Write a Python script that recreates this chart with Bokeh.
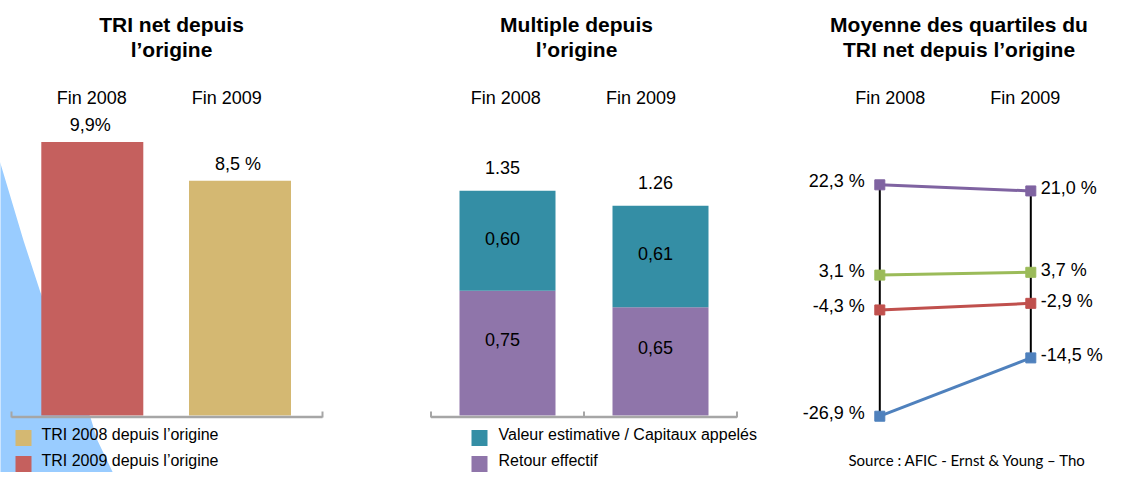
from bokeh.plotting import figure
from bokeh.layouts import row
from bokeh.models import Range1d
from bokeh.core.properties import value
from bokeh.embed import file_html
from bokeh.resources import INLINE

# ---------------- data ----------------
periods = ["Fin 2008", "Fin 2009"]

# Panel 1 : TRI net depuis l'origine
tri_net = [9.9, 8.5]
tri_labels = ["9,9%", "8,5 %"]
tri_colors = ["#C5605E", "#D4B872"]
tri_legend = ["TRI 2008 depuis l\u2019origine", "TRI 2009 depuis l\u2019origine"]
tri_legend_colors = ["#D4B872", "#C5605E"]

# Panel 2 : Multiple depuis l'origine
retour_effectif = [0.75, 0.65]
valeur_estimative = [0.60, 0.61]
retour_labels = ["0,75", "0,65"]
valeur_labels = ["0,60", "0,61"]
multiple_legend = ["Valeur estimative / Capitaux appel\u00e9s", "Retour effectif"]
col_retour = "#8F75AA"
col_valeur = "#348EA5"

# Panel 3 : Moyenne des quartiles du TRI net
quartiles = {
    "q1": [22.3, 21.0],
    "q2": [3.1, 3.7],
    "q3": [-4.3, -2.9],
    "q4": [-26.9, -14.5],
}
quartile_labels = {
    "q1": ["22,3 %", "21,0 %"],
    "q2": ["3,1 %", "3,7 %"],
    "q3": ["-4,3 %", "-2,9 %"],
    "q4": ["-26,9 %", "-14,5 %"],
}
quartile_colors = {"q1": "#7F63A1", "q2": "#9BBB59", "q3": "#C0504D", "q4": "#4F81BD"}

titles = [
    ["TRI net depuis", "l\u2019origine"],
    ["Multiple depuis", "l\u2019origine"],
    ["Moyenne des quartiles du", "TRI net depuis l\u2019origine"],
]
source_text = "Source : AFIC - Ernst & Young \u2013 Tho"

FONT = value("Liberation Sans")
H = 472
K = 0.37  # empirical baseline correction (fraction of font size)


def make_panel(x0_page, width, cx0, dx, py0, dy):
    xr = Range1d((x0_page - cx0) / dx, (x0_page + width - cx0) / dx)
    yr = Range1d((py0 - H) / dy, (py0 - 0) / dy)
    p = figure(width=width, height=H, x_range=xr, y_range=yr,
               output_backend="svg", toolbar_location=None, tools="",
               min_border=0, outline_line_color=None,
               x_axis_location=None, y_axis_location=None,
               background_fill_color="white", border_fill_color="white")
    p.xgrid.visible = False
    p.ygrid.visible = False
    X = lambda px: (px - cx0) / dx
    Y = lambda py: (py0 - py) / dy
    return p, X, Y, dx, dy


def txt(p, dy, xs, ys, texts, size=18, align="center", bold=False, color="#000000", font=FONT):
    shift = K * size / dy
    p.text(x=xs, y=[y + shift for y in ys], text=texts, text_font=font, text_font_size="%dpx" % size,
           text_align=align, text_baseline="alphabetic",
           text_font_style="bold" if bold else "normal", text_color=color)


def title(p, dy, X, Y, lines, cx):
    txt(p, dy, [X(cx)] * len(lines), [Y(31.7), Y(57)], lines, size=21, bold=True)


idx = list(range(len(periods)))
LEG_BASE = [440, 466]
LEG_SQ = [437.5, 463.5]

# ---------------- panel 1 ----------------
p1, X1, Y1, dx1, dy1 = make_panel(0, 390, 91.8, 147.7, 415, 27.63)
# decorative light-blue shape
wedge = [(-10, 131), (0, 163), (23, 240), (40, 292), (65, 355), (90, 417), (97, 440), (120, 488), (130, 500), (-10, 500)]
p1.patch(x=[X1(a) for a, b in wedge], y=[Y1(b) for a, b in wedge], fill_color="#99CCFF", line_color=None)
p1.vbar(x=idx, top=tri_net, bottom=0, width=102 / dx1, fill_color=tri_colors, line_color=None)
p1.line(x=[X1(11), X1(322)], y=[Y1(416.5)] * 2, line_color="#A6A6A6", line_width=2.5)
p1.segment(x0=[X1(11), X1(322)], y0=[Y1(411)] * 2, x1=[X1(11), X1(322)], y1=[Y1(417)] * 2,
           line_color="#A6A6A6", line_width=2)
txt(p1, dy1, [i - 2 / dx1 for i in idx], [v + 10 / dy1 for v in tri_net], tri_labels)
txt(p1, dy1, [X1(91.3), X1(226.3)], [Y1(104.3)] * 2, periods)
title(p1, dy1, X1, Y1, titles[0], 171)
p1.rect(x=[X1(23)] * 2, y=[Y1(v) for v in LEG_SQ], width=16 / dx1, height=16 / dy1,
        fill_color=tri_legend_colors, line_color=None)
txt(p1, dy1, [X1(41)] * 2, [Y1(v) for v in LEG_BASE], tri_legend, size=16, align="left")

# ---------------- panel 2 ----------------
p2, X2, Y2, dx2, dy2 = make_panel(390, 385, 507, 153, 415, 166.5)
totals = [a + b for a, b in zip(retour_effectif, valeur_estimative)]
p2.vbar(x=idx, top=retour_effectif, bottom=0, width=96 / dx2, fill_color=col_retour, line_color=None)
p2.vbar(x=idx, top=totals, bottom=retour_effectif, width=96 / dx2, fill_color=col_valeur, line_color=None)
p2.line(x=[-0.5, len(idx) - 0.5], y=[Y2(416.5)] * 2, line_color="#A6A6A6", line_width=2.5)
ticks = [i - 0.5 for i in range(len(idx) + 1)]
p2.segment(x0=ticks, y0=[Y2(411)] * len(ticks), x1=ticks, y1=[Y2(417)] * len(ticks),
           line_color="#A6A6A6", line_width=2)
xo = -5 / dx2
txt(p2, dy2, [i + xo for i in idx], [t + 17 / dy2 for t in totals], ["%.2f" % t for t in totals])
txt(p2, dy2, [i + xo for i in idx], [b + v / 2 - 4 / dy2 for b, v in zip(retour_effectif, valeur_estimative)], valeur_labels)
txt(p2, dy2, [i + xo for i in idx], [b / 2 + 7 / dy2 for b in retour_effectif], retour_labels)
txt(p2, dy2, [X2(505.3), X2(640.5)], [Y2(104.3)] * 2, periods)
title(p2, dy2, X2, Y2, titles[1], 576)
p2.rect(x=[X2(479)] * 2, y=[Y2(v) for v in LEG_SQ], width=16 / dx2, height=16 / dy2,
        fill_color=[col_valeur, col_retour], line_color=None)
txt(p2, dy2, [X2(498)] * 2, [Y2(v) for v in LEG_BASE], multiple_legend, size=16, align="left")

# ---------------- panel 3 ----------------
S = 12  # shift left so right-hand labels stay inside the page
p3, X3, Y3, dx3, dy3 = make_panel(775, 331, 891.3 - S, 151, 289.2, 4.703)
cols = list(zip(*quartiles.values()))
p3.segment(x0=idx, y0=[max(c) for c in cols], x1=idx, y1=[min(c) for c in cols],
           line_color="#000000", line_width=2)
for k, vals in quartiles.items():
    p3.line(x=idx, y=vals, line_color=quartile_colors[k], line_width=3)
for k, vals in quartiles.items():
    p3.scatter(x=idx, y=vals, marker="square", size=10, fill_color=quartile_colors[k], line_color=quartile_colors[k])
left_vals = [v[0] for v in quartiles.values()]
right_vals = [v[1] for v in quartiles.values()]
txt(p3, dy3, [idx[0] - 15 / dx3] * 4, [v - 3 / dy3 for v in left_vals],
    [l[0] for l in quartile_labels.values()], align="right")
txt(p3, dy3, [idx[1] + 10 / dx3] * 4, [v - 4 / dy3 for v in right_vals],
    [l[1] for l in quartile_labels.values()], align="left")
txt(p3, dy3, [X3(901.7 - S), X3(1036.7 - S)], [Y3(104.3)] * 2, periods)
title(p3, dy3, X3, Y3, titles[2], 970.5 - S)
txt(p3, dy3, [X3(848)], [Y3(465)], [source_text], size=15, align="left", font=value("Lato"))

layout = row(p1, p2, p3)
open("out.html", "w").write(file_html(layout, INLINE))
